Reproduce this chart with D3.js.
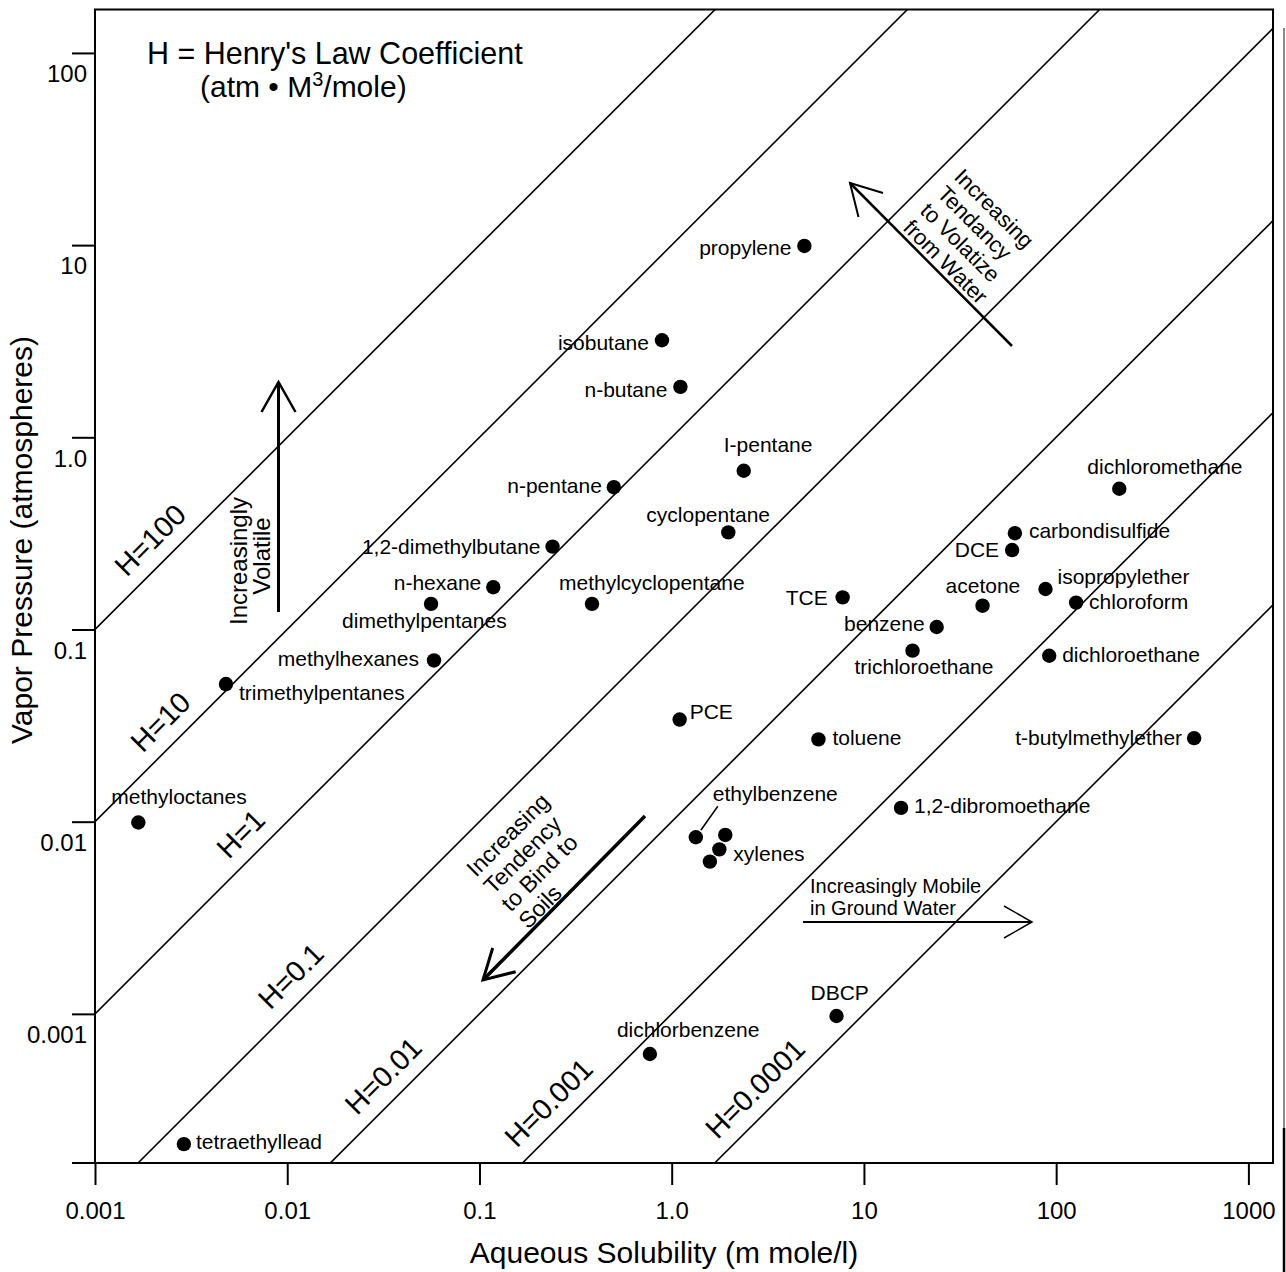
<!DOCTYPE html>
<html>
<head>
<meta charset="utf-8">
<script src="https://cdn.jsdelivr.net/npm/d3@7"></script>
<style>
    body { margin: 0; background: white; }
    svg { display: block; font-family: "Liberation Sans", Arial, Helvetica, sans-serif; }
    .lbl { font-size: 21px; }
</style>
</head>
<body>
<svg id="chart" width="1286" height="1272"></svg>
<script>
// values
let compounds = ["propylene", "isobutane", "n-butane", "I-pentane", "n-pentane", "cyclopentane",
    "1,2-dimethylbutane", "n-hexane", "dimethylpentanes", "methylcyclopentane", "methylhexanes",
    "PCE", "trimethylpentanes", "methyloctanes", "tetraethyllead", "dichloromethane",
    "carbondisulfide", "DCE", "TCE", "acetone", "isopropylether", "chloroform", "benzene",
    "trichloroethane", "dichloroethane", "toluene", "t-butylmethylether", "1,2-dibromoethane",
    "ethylbenzene", "xylenes", "xylenes", "xylenes", "dichlorbenzene", "DBCP"]
// aqueous solubility, m mole/l
let solubility = [4.9, 0.89, 1.11, 2.37, 0.50, 1.97,
    0.24, 0.118, 0.056, 0.385, 0.058,
    1.10, 0.0048, 0.00168, 0.0029, 213,
    61, 59, 7.75, 41.4, 88, 127, 23.9,
    17.9, 92, 5.8, 522, 15.6,
    1.335, 1.90, 1.77, 1.58, 0.77, 7.2]
// vapor pressure, atm
let vaporPressure = [9.9, 3.2, 1.83, 0.67, 0.55, 0.32,
    0.27, 0.166, 0.136, 0.136, 0.069,
    0.034, 0.052, 0.0099, 0.00021, 0.54,
    0.317, 0.259, 0.147, 0.133, 0.1625, 0.138, 0.103,
    0.0776, 0.073, 0.0268, 0.0272, 0.0118,
    0.0083, 0.00853, 0.00718, 0.0062, 0.000618, 0.000975]

let henryValues = [100, 10, 1, 0.1, 0.01, 0.001, 0.0001]
let henryLabels = ["H=100", "H=10", "H=1", "H=0.1", "H=0.01", "H=0.001", "H=0.0001"]

let xTicks = [0.001, 0.01, 0.1, 1, 10, 100, 1000]
let xTickLabels = ["0.001", "0.01", "0.1", "1.0", "10", "100", "1000"]
let yTicks = [0.001, 0.01, 0.1, 1, 10, 100]
let yTickLabels = ["0.001", "0.01", "0.1", "1.0", "10", "100"]

// label placement next to each dot: [anchor, dx, dy] (null = no label)
let labelSpots = [["end", -13, 9], ["end", -13, 10], ["end", -13, 10], ["start", -20, -19], ["end", -12, 6], ["start", -82, -10],
    ["end", -12, 7], ["end", -12, 3], ["start", -89, 24], ["start", -33, -14], ["end", -15, 6],
    ["start", 10, -1], ["start", 13, 16], ["start", -27, -19], ["start", 12, 5], ["start", -32, -15],
    ["start", 14, 5], ["end", -13, 7], ["end", -15, 8], ["start", -37, -13], ["start", 12, -5], ["start", 13, 6], ["end", -12, 4],
    ["start", -58, 23], ["start", 13, 6], ["start", 14, 6], ["end", -12, 7], ["start", 13, 5],
    ["start", 17, -36], null, ["start", 14, 12], null, ["start", -33, -17], ["start", -26, -16]]
// solubility where each H label starts along its line
let henryLabelAt = [0.00165, 0.00200, 0.00560, 0.00920, 0.0260, 0.1760, 1.95]

function getConfig() {
    let margin = { left: 95, right: 1273, top: 9.5, bottom: 1163 }
    let container = d3.select("#chart")
    return { margin, container }
}

function getScales(config) {
    let { margin } = config
    let x = d3.scaleLog().domain([0.001, Math.pow(10, 3.128)]).range([margin.left, margin.right])
    let y = d3.scaleLog().domain([Math.pow(10, -3.776), Math.pow(10, 2.226)]).range([margin.bottom, margin.top])
    return { x, y }
}

function drawHenryLines(scales, config) {
    let { x, y } = scales
    let { container, margin } = config
    container.append("clipPath").attr("id", "plotClip")
        .append("rect")
        .attr("x", margin.left).attr("y", margin.top)
        .attr("width", margin.right - margin.left).attr("height", margin.bottom - margin.top)

    let [s0, s1] = x.domain()
    container.append("g").attr("clip-path", "url(#plotClip)")
        .selectAll("line").data(henryValues).enter().append("line")
        .attr("x1", x(s0)).attr("x2", x(s1))
        .attr("y1", h => y(h * s0)).attr("y2", h => y(h * s1))
        .attr("stroke", "black").attr("stroke-width", 1.6)

    container.append("g").selectAll("text").data(henryValues).enter().append("text")
        .attr("transform", (h, i) => {
            let s = henryLabelAt[i]
            return `translate(${x(s) - 10},${y(h * s) - 10}) rotate(-45)`
        })
        .attr("font-size", 29)
        .text((h, i) => henryLabels[i])
}

function drawAxes(scales, config) {
    let { x, y } = scales
    let { container, margin } = config

    let axisX = d3.axisBottom(x).tickValues(xTicks)
        .tickFormat((d, i) => xTickLabels[i]).tickSize(22).tickPadding(17).tickSizeOuter(0)
    let gx = container.append("g")
        .attr("transform", `translate(0,${margin.bottom})`)
        .call(axisX)
    gx.select(".domain").remove()

    let axisY = d3.axisLeft(y).tickValues(yTicks)
        .tickFormat((d, i) => yTickLabels[i]).tickSize(23).tickPadding(-15).tickSizeOuter(0)
    let gy = container.append("g")
        .attr("transform", `translate(${margin.left},0)`)
        .call(axisY)
    gy.select(".domain").remove()
    gy.selectAll("text").attr("dy", "1.2em")

    for (let g of [gx, gy]) {
        g.attr("font-family", null).attr("font-size", 24)
        g.selectAll("line").attr("stroke-width", 2)
        g.selectAll("text").attr("fill", "black")
    }

    // extra tick at the bottom-left corner
    container.append("line")
        .attr("x1", margin.left - 23).attr("x2", margin.left)
        .attr("y1", margin.bottom).attr("y2", margin.bottom)
        .attr("stroke", "black").attr("stroke-width", 2)

    container.append("rect")
        .attr("x", margin.left).attr("y", margin.top)
        .attr("width", margin.right - margin.left).attr("height", margin.bottom - margin.top)
        .attr("fill", "none").attr("stroke", "black").attr("stroke-width", 2)

    container.append("text")
        .attr("x", (margin.left + margin.right) / 2 - 20).attr("y", 1263)
        .attr("text-anchor", "middle").attr("font-size", 30)
        .text("Aqueous Solubility (m mole/l)")

    container.append("text")
        .attr("transform", "translate(32,540) rotate(-90)")
        .attr("text-anchor", "middle").attr("font-size", 30)
        .text("Vapor Pressure (atmospheres)")

    // scan edge on the right
    container.append("line").attr("x1", 1284).attr("x2", 1284).attr("y1", 28).attr("y2", 1128)
        .attr("stroke", "#666").attr("stroke-width", 1.5)
    container.append("line").attr("x1", 1284).attr("x2", 1284).attr("y1", 1128).attr("y2", 1272)
        .attr("stroke", "black").attr("stroke-width", 2.5)
}

function drawPoints(scales, config) {
    let { x, y } = scales
    let { container } = config
    let rows = compounds.map((name, i) => ({ name, s: solubility[i], vp: vaporPressure[i], spot: labelSpots[i] }))

    container.append("g").selectAll("circle").data(rows).enter().append("circle")
        .attr("cx", d => x(d.s)).attr("cy", d => y(d.vp))
        .attr("r", 7.2).attr("fill", "black")

    let labelled = rows.filter(d => d.spot)
    container.append("g").selectAll("text").data(labelled).enter().append("text")
        .attr("class", "lbl")
        .attr("x", d => x(d.s) + d.spot[1])
        .attr("y", d => y(d.vp) + d.spot[2])
        .attr("text-anchor", d => d.spot[0])
        .text(d => d.name)

    // leader from the ethylbenzene label to its dot
    let eb = rows.find(d => d.name == "ethylbenzene")
    container.append("line")
        .attr("x1", x(eb.s) + 5).attr("y1", y(eb.vp) - 7)
        .attr("x2", x(eb.s) + 22).attr("y2", y(eb.vp) - 31)
        .attr("stroke", "black").attr("stroke-width", 1.5)
}

function arrow(container, pts, head, width) {
    container.append("line")
        .attr("x1", pts[0][0]).attr("y1", pts[0][1]).attr("x2", pts[1][0]).attr("y2", pts[1][1])
        .attr("stroke", "black").attr("stroke-width", width)
    container.append("polyline")
        .attr("points", head.map(p => p.join(",")).join(" "))
        .attr("fill", "none").attr("stroke", "black").attr("stroke-width", width - 0.5)
}

function textBlock(container, transform, lines, size, spacing, anchor) {
    let t = container.append("text").attr("transform", transform)
        .attr("font-size", size).attr("text-anchor", anchor)
    lines.forEach((l, i) => t.append("tspan").attr("x", 0).attr("y", i * spacing).text(l))
    return t
}

function drawAnnotations(config) {
    let { container } = config

    container.append("text").attr("font-size", 30.5).attr("x", 147).attr("y", 64)
        .text("H = Henry's Law Coefficient")
    let sub = container.append("text").attr("font-size", 30).attr("x", 200).attr("y", 97)
    sub.append("tspan").text("(atm \u2022 M")
    sub.append("tspan").attr("font-size", 20).attr("dy", -11).text("3")
    sub.append("tspan").attr("dy", 11).text("/mole)")

    // increasingly volatile
    arrow(container, [[278.5, 612], [278.5, 382]], [[261.5, 412], [278.5, 382], [295.5, 412]], 3)
    textBlock(container, "translate(247,561) rotate(-90)", ["Increasingly"], 24, 0, "middle")
    textBlock(container, "translate(270,556) rotate(-90)", ["Volatile"], 24, 0, "middle")

    // volatize from water
    arrow(container, [[1012, 346], [850, 183]], [[883, 193], [850, 183], [858.5, 217]], 2.5)
    textBlock(container, "translate(953,178) rotate(45)",
        ["Increasing", "Tendancy", "to Volatize", "from Water"], 22, 24, "start")

    // bind to soils
    arrow(container, [[645, 816], [483, 980]], [[492.7, 948], [483, 980], [515.7, 971.7]], 3.5)
    textBlock(container, "translate(476,878) rotate(-45)",
        ["Increasing", "Tendency", "to Bind to", "Soils"], 23, 24.5, "start")

    // mobile in ground water
    arrow(container, [[803, 922], [1032, 922]], [[1004, 906], [1032, 922], [1004, 938]], 2)
    textBlock(container, "translate(810,893)", ["Increasingly Mobile", "in Ground Water"], 20, 22, "start")
}

function drawChart() {
    let config = getConfig()
    let scales = getScales(config)
    drawHenryLines(scales, config)
    drawAxes(scales, config)
    drawPoints(scales, config)
    drawAnnotations(config)
}

drawChart()
</script>
</body>
</html>
